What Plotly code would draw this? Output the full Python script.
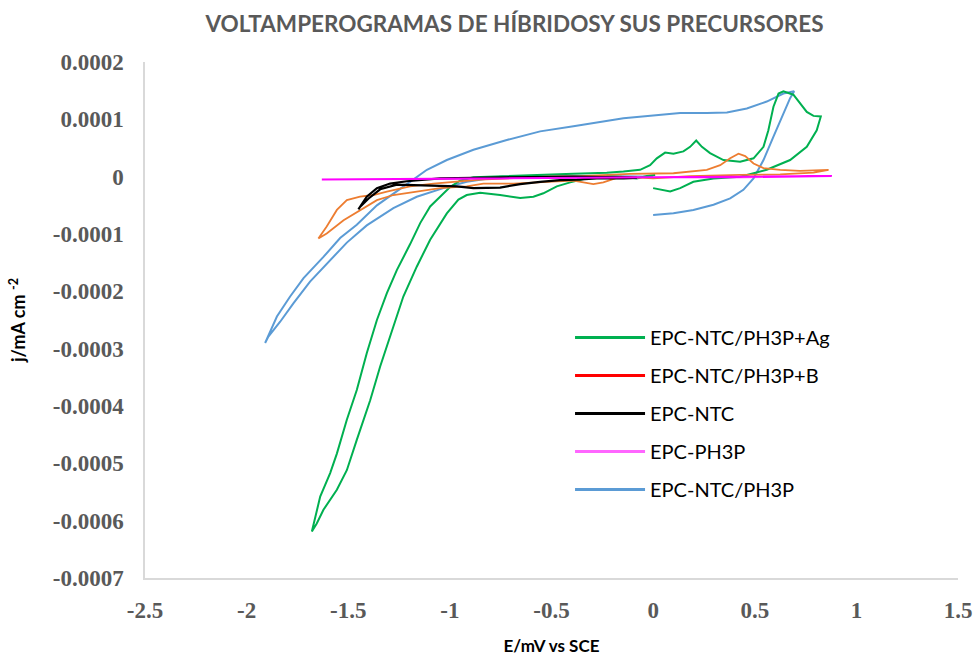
import plotly.graph_objects as go

# ---------------- data (E in V vs SCE, j in mA cm^-2) ----------------
ag_E = [0.000, 0.084, 0.133, 0.198, 0.297, 0.428, 0.559, 0.674, 0.756, 0.805, 0.825, 0.789, 0.756,
        0.723, 0.690, 0.641, 0.617, 0.592, 0.567, 0.543, 0.494, 0.428, 0.346, 0.280, 0.240, 0.212,
        0.182, 0.149, 0.100, 0.059, 0.018, -0.015, -0.064, -0.146, -0.228, -0.392, -0.638, -0.884,
        -0.950, -0.999, -1.048, -1.097, -1.146, -1.196, -1.261, -1.310, -1.359, -1.409, -1.458,
        -1.507, -1.556, -1.589, -1.638, -1.679, -1.655, -1.622, -1.556, -1.507, -1.458, -1.392,
        -1.343, -1.278, -1.229, -1.163, -1.097, -1.015, -0.958, -0.917, -0.851, -0.753, -0.654,
        -0.589, -0.540, -0.474, -0.408, -0.326, -0.228, -0.129, -0.080, -0.031, 0.010]
ag_j = [-0.20e-4, -0.26e-4, -0.20e-4, -0.09e-4, -0.03e-4, 0.00e-4, 0.12e-4, 0.29e-4, 0.52e-4, 0.81e-4,
        1.05e-4, 1.06e-4, 1.13e-4, 1.28e-4, 1.43e-4, 1.49e-4, 1.45e-4, 1.22e-4, 0.81e-4, 0.52e-4,
        0.32e-4, 0.26e-4, 0.29e-4, 0.41e-4, 0.52e-4, 0.63e-4, 0.52e-4, 0.44e-4, 0.40e-4, 0.42e-4,
        0.32e-4, 0.20e-4, 0.12e-4, 0.09e-4, 0.07e-4, 0.05e-4, 0.02e-4, -0.01e-4, -0.07e-4, -0.18e-4,
        -0.35e-4, -0.52e-4, -0.81e-4, -1.18e-4, -1.63e-4, -2.03e-4, -2.50e-4, -3.08e-4, -3.72e-4,
        -4.24e-4, -4.83e-4, -5.17e-4, -5.58e-4, -6.19e-4, -6.05e-4, -5.81e-4, -5.46e-4, -5.12e-4,
        -4.59e-4, -3.90e-4, -3.31e-4, -2.62e-4, -2.09e-4, -1.57e-4, -1.10e-4, -0.64e-4, -0.40e-4,
        -0.32e-4, -0.28e-4, -0.32e-4, -0.37e-4, -0.35e-4, -0.29e-4, -0.17e-4, -0.10e-4, -0.03e-4,
        0.01e-4, -0.01e-4, -0.03e-4, 0.01e-4, 0.03e-4]

b_E = [-1.647, -1.606, -1.556, -1.507, -1.442, -1.376, -1.310, -1.196, -1.081, -0.983, -0.851, -0.523,
       -0.359, -0.113, 0.018, 0.100, 0.264, 0.330, 0.379, 0.420, 0.453, 0.494, 0.543, 0.625, 0.723,
       0.863, 0.789, 0.625, 0.428, 0.182, 0.000, -0.162, -0.212, -0.245, -0.294, -0.343, -0.392,
       -0.523, -0.687, -0.835, -0.917, -1.048, -1.163, -1.278, -1.359, -1.442, -1.523, -1.606, -1.647]
b_j = [-1.08e-4, -0.87e-4, -0.58e-4, -0.41e-4, -0.35e-4, -0.32e-4, -0.26e-4, -0.17e-4, -0.12e-4,
       -0.09e-4, -0.05e-4, 0.00e-4, 0.01e-4, 0.05e-4, 0.05e-4, 0.06e-4, 0.12e-4, 0.20e-4, 0.32e-4,
       0.40e-4, 0.36e-4, 0.23e-4, 0.15e-4, 0.12e-4, 0.10e-4, 0.12e-4, 0.07e-4, 0.04e-4, 0.03e-4,
       0.01e-4, -0.03e-4, 0.00e-4, -0.06e-4, -0.10e-4, -0.13e-4, -0.10e-4, -0.07e-4, -0.09e-4,
       -0.12e-4, -0.12e-4, -0.17e-4, -0.20e-4, -0.26e-4, -0.32e-4, -0.41e-4, -0.58e-4, -0.76e-4,
       -0.99e-4, -1.08e-4]

ntc_E = [-1.450, -1.409, -1.359, -1.294, -1.212, -1.048, -0.720, -0.392, -0.146, -0.080, -0.146,
         -0.277, -0.375, -0.458, -0.556, -0.654, -0.753, -0.884, -0.966, -1.130, -1.261, -1.343,
         -1.400, -1.440]
ntc_j = [-0.57e-4, -0.35e-4, -0.20e-4, -0.12e-4, -0.08e-4, -0.03e-4, -0.01e-4, 0.00e-4, -0.01e-4,
         -0.02e-4, -0.03e-4, -0.03e-4, -0.05e-4, -0.06e-4, -0.09e-4, -0.13e-4, -0.19e-4, -0.20e-4,
         -0.17e-4, -0.16e-4, -0.14e-4, -0.22e-4, -0.38e-4, -0.52e-4]

ph3p_E = [-1.630, -1.200, -0.750, -0.300, 0.000, 0.400, 0.879, 0.400, 0.000, -0.750, -1.630]
ph3p_j = [-0.05e-4, -0.04e-4, -0.02e-4, -0.01e-4, 0.00e-4, 0.00e-4, 0.01e-4, -0.01e-4, -0.01e-4,
          -0.03e-4, -0.05e-4]

np_E = [0.000, 0.100, 0.198, 0.297, 0.379, 0.444, 0.494, 0.543, 0.592, 0.641, 0.674, 0.694, 0.641,
        0.559, 0.461, 0.363, 0.264, 0.133, 0.034, -0.064, -0.146, -0.392, -0.556, -0.720, -0.884,
        -1.015, -1.113, -1.196, -1.278, -1.359, -1.458, -1.540, -1.622, -1.720, -1.786, -1.851,
        -1.909, -1.893, -1.835, -1.770, -1.688, -1.589, -1.507, -1.458, -1.409, -1.278, -1.163,
        -1.032, -0.917, -0.753, -0.500, -0.250, 0.000]
np_j = [-0.67e-4, -0.64e-4, -0.58e-4, -0.49e-4, -0.38e-4, -0.23e-4, -0.03e-4, 0.29e-4, 0.70e-4,
        1.11e-4, 1.37e-4, 1.49e-4, 1.45e-4, 1.31e-4, 1.19e-4, 1.12e-4, 1.11e-4, 1.11e-4, 1.08e-4,
        1.05e-4, 1.02e-4, 0.88e-4, 0.79e-4, 0.64e-4, 0.47e-4, 0.29e-4, 0.12e-4, -0.09e-4, -0.29e-4,
        -0.50e-4, -0.84e-4, -1.07e-4, -1.40e-4, -1.77e-4, -2.09e-4, -2.44e-4, -2.90e-4, -2.79e-4,
        -2.53e-4, -2.21e-4, -1.83e-4, -1.45e-4, -1.15e-4, -1.00e-4, -0.85e-4, -0.55e-4, -0.35e-4,
        -0.20e-4, -0.09e-4, 0.00e-4, 0.01e-4, 0.01e-4, 0.00e-4]

legend_names = ["EPC-NTC/PH3P+Ag", "EPC-NTC/PH3P+B", "EPC-NTC", "EPC-PH3P", "EPC-NTC/PH3P"]
legend_colors = ["#00B050", "#FF0000", "#000000", "#FF66FF", "#5B9BD5"]

x_ticks = [-2.5, -2, -1.5, -1, -0.5, 0, 0.5, 1, 1.5]
x_ticktext = ["-2.5", "-2", "-1.5", "-1", "-0.5", "0", "0.5", "1", "1.5"]
y_ticks = [0.0002, 0.0001, 0, -0.0001, -0.0002, -0.0003, -0.0004, -0.0005, -0.0006, -0.0007]
y_ticktext = ["0.0002", "0.0001", "0", "-0.0001", "-0.0002", "-0.0003", "-0.0004", "-0.0005",
              "-0.0006", "-0.0007"]

# ---------------- figure ----------------
fig = go.Figure()

curves = [
    (np_E, np_j, "#5B9BD5", 2),
    (ag_E, ag_j, "#00B050", 2),
    (b_E, b_j, "#ED7D31", 1.8),
    (ntc_E, ntc_j, "#000000", 2.2),
    (ph3p_E, ph3p_j, "#FF00FF", 2),
]
for xs, ys, col, w in curves:
    fig.add_trace(go.Scatter(x=xs, y=ys, mode="lines", line=dict(color=col, width=w),
                             showlegend=False, hoverinfo="skip"))

for i, (name, col) in enumerate(zip(legend_names, legend_colors)):
    fig.add_trace(go.Scatter(x=[None], y=[None], mode="lines", name=name,
                             line=dict(color=col, width=3), legendgroup="g%d" % i))

tick_font = dict(family="Liberation Serif", size=23, color="#595959", weight="bold")

fig.update_layout(
    width=977, height=656,
    margin=dict(l=145, r=19, t=62, b=78, autoexpand=False),
    paper_bgcolor="white", plot_bgcolor="white",
    title=dict(text="VOLTAMPEROGRAMAS DE HÍBRIDOSY SUS PRECURSORES",
               font=dict(family="Lato", size=22.5, color="#595959", weight="bold"),
               x=0.5266, xanchor="center", y=0.9634, yanchor="middle"),
    xaxis=dict(range=[-2.5, 1.5], tickvals=x_ticks, ticktext=x_ticktext, showgrid=False,
               zeroline=False, showline=True, linecolor="#D9D9D9", linewidth=1.5, ticks="",
               tickfont=tick_font, ticklabelstandoff=11, automargin=False,
               title=dict(text="E/mV vs SCE", standoff=18,
                          font=dict(family="Lato", size=17, color="#000000", weight="bold"))),
    yaxis=dict(range=[-0.0007, 0.0002], tickvals=y_ticks, ticktext=y_ticktext, showgrid=False,
               zeroline=False, showline=True, linecolor="#D9D9D9", linewidth=1.5, ticks="",
               tickfont=tick_font, ticklabelstandoff=15, automargin=False,
               title=dict(text="j/mA cm <sup>-2</sup>", standoff=22,
                          font=dict(family="Lato", size=18, color="#000000", weight="bold"))),
    legend=dict(x=0.5228, y=0.504, xanchor="left", yanchor="top", bgcolor="rgba(0,0,0,0)",
                font=dict(family="Lato", size=20, color="#000000"), itemwidth=70,
                tracegroupgap=9),
    showlegend=True,
)

# remove the default 8px page margin so the figure fills the window exactly
fig.write_html("out.html", config={"displayModeBar": False},
               post_script="document.body.style.margin='0';")
